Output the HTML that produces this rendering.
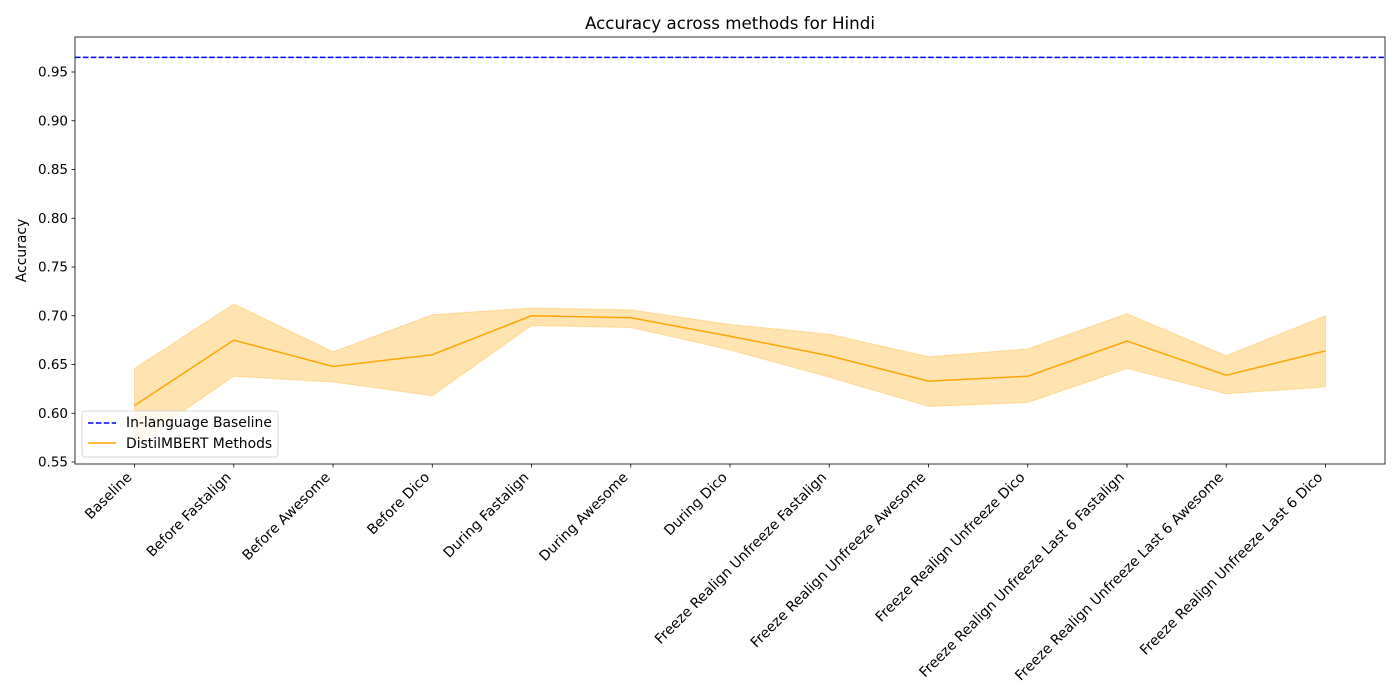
<!DOCTYPE html>
<html><head><meta charset="utf-8"><style>
body{margin:0;background:#fff;}
svg{display:block;font-family:"DejaVu Sans","Liberation Sans",sans-serif;}
</style></head><body>
<svg id="chart" width="1400" height="700" xmlns="http://www.w3.org/2000/svg"></svg>
<script>
const categories=["Baseline","Before Fastalign","Before Awesome","Before Dico","During Fastalign","During Awesome","During Dico","Freeze Realign Unfreeze Fastalign","Freeze Realign Unfreeze Awesome","Freeze Realign Unfreeze Dico","Freeze Realign Unfreeze Last 6 Fastalign","Freeze Realign Unfreeze Last 6 Awesome","Freeze Realign Unfreeze Last 6 Dico"];
const meanValues=[0.608,0.675,0.648,0.660,0.700,0.698,0.679,0.659,0.633,0.638,0.674,0.639,0.664];
const upperValues=[0.646,0.712,0.663,0.701,0.708,0.706,0.691,0.681,0.658,0.666,0.702,0.659,0.700];
const lowerValues=[0.568,0.638,0.632,0.618,0.690,0.688,0.665,0.637,0.607,0.611,0.646,0.620,0.627];
const baselineValue=0.965;
const yTicks=[0.55,0.60,0.65,0.70,0.75,0.80,0.85,0.90,0.95];

const NS="http://www.w3.org/2000/svg";
const svg=document.getElementById('chart');
const L=75,R=1385,T=37,B=464;
const n=categories.length;
const xmin=-0.6,xmax=n-1+0.6;
const X=i=>L+(i-xmin)/(xmax-xmin)*(R-L);
const Y=v=>462-(v-0.55)*975;
function mk(tag,attrs,parent){const e=document.createElementNS(NS,tag);for(const k in attrs)e.setAttribute(k,attrs[k]);(parent||svg).appendChild(e);return e;}

let pts=meanValues.map((_,i)=>X(i)+','+Y(upperValues[i]));
for(let i=n-1;i>=0;i--)pts.push(X(i)+','+Y(lowerValues[i]));
const band=mk('polygon',{points:pts.join(' '),fill:'#ffa500','fill-opacity':0.3,stroke:'#ffa500','stroke-opacity':0.3});



const bl=mk('line',{x1:L,x2:R,y1:Y(baselineValue),y2:Y(baselineValue),stroke:'#0000ff','stroke-width':1.5,'stroke-dasharray':'5.5,2.4'});


const bl2=mk('line',{x1:X(0),x2:X(n-1),y1:Y(baselineValue),y2:Y(baselineValue),stroke:'#0000ff','stroke-width':0.8,'stroke-opacity':0.3});



const ml=mk('polyline',{points:meanValues.map((v,i)=>X(i)+','+Y(v)).join(' '),fill:'none',stroke:'#ffa500','stroke-width':1.5});



const fr=mk('rect',{x:L,y:T,width:R-L,height:B-T,fill:'none',stroke:'#000','stroke-width':0.8});



yTicks.forEach(v=>{
 const y=Y(v);
 const t=mk('line',{x1:L-3.5,x2:L,y1:y,y2:y,stroke:'#000','stroke-width':0.8});
 
 
 const lb=mk('text',{x:L-7,y:y+4.5,'text-anchor':'end','font-size':13.5});
 lb.textContent=v.toFixed(2);
 
 
});
categories.forEach((c,i)=>{
 const x=X(i);
 const t=mk('line',{x1:x,x2:x,y1:B,y2:B+3.5,stroke:'#000','stroke-width':0.8});
 
 
 const lb=mk('text',{x:0,y:0,'text-anchor':'end','font-size':14,transform:`translate(${x-2},${B+14}) rotate(-45)`});
 lb.textContent=c;
 
 
});
const yt=mk('text',{x:0,y:0,'text-anchor':'middle','font-size':13.9,transform:`translate(26,${(T+B)/2}) rotate(-90)`});
yt.textContent='Accuracy';


const tt=mk('text',{x:(L+R)/2,y:29,'text-anchor':'middle','font-size':16.7});
tt.textContent='Accuracy across methods for Hindi';



const lg=mk('g',{});


mk('rect',{x:82,y:411,width:196,height:46,rx:3,fill:'#fff','fill-opacity':0.8,stroke:'#ccc','stroke-width':0.8},lg);
mk('line',{x1:88,x2:116,y1:423,y2:423,stroke:'#0000ff','stroke-width':1.5,'stroke-dasharray':'5.5,2.4'},lg);
mk('line',{x1:88,x2:116,y1:443,y2:443,stroke:'#ffa500','stroke-width':1.5},lg);
const t1=mk('text',{x:126,y:427,'font-size':13.9},lg);t1.textContent='In-language Baseline';


const t2=mk('text',{x:126,y:448,'font-size':13.9},lg);t2.textContent='DistilMBERT Methods';


</script>
</body></html>
